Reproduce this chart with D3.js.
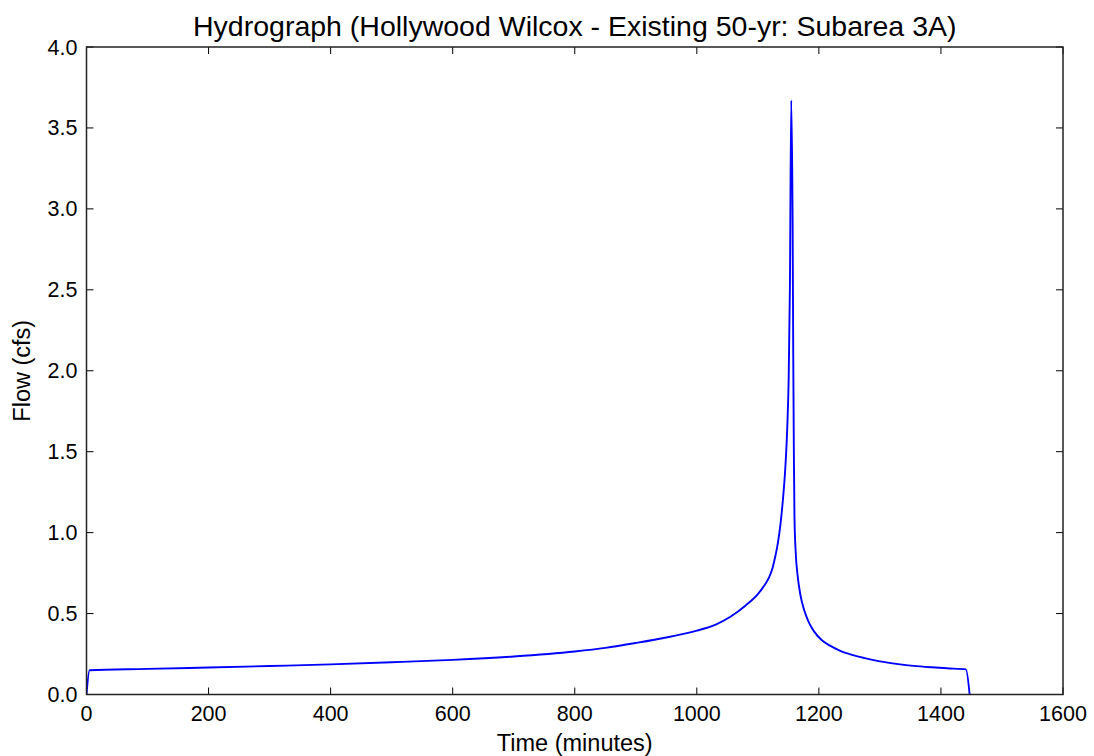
<!DOCTYPE html>
<html>
<meta charset="utf-8" />
<script src="https://cdn.jsdelivr.net/npm/d3@7/dist/d3.min.js"></script>
<style>
  html, body { margin: 0; padding: 0; background: #fff; }
  svg { display: block; font-family: 'Liberation Sans', Arial, sans-serif; }
  .tick-label { font-size: 21.5px; fill: #000; }
  .axis-title { font-size: 23.5px; fill: #000; }
  .title { font-size: 28.5px; fill: #000; }
</style>
<body>
<div id="chart"></div>
<script>
// hydrograph (minutes, cfs)
var times = [0, 5, 100, 200, 300, 400, 500, 600, 700, 800, 850, 900, 950, 1000, 1030, 1055,
  1080, 1100, 1110, 1118, 1124, 1129, 1133, 1137, 1141, 1145, 1148, 1150.5, 1152.5, 1154.7,
  1157, 1158, 1159, 1160, 1162, 1165, 1170, 1176, 1183, 1192, 1205, 1219, 1235, 1250, 1275,
  1300, 1330, 1355, 1385, 1410, 1441, 1447];
var flows = [0, 0.150, 0.158, 0.167, 0.176, 0.186, 0.199, 0.214, 0.235, 0.266, 0.288, 0.318,
  0.352, 0.395, 0.43, 0.48, 0.55, 0.62, 0.67, 0.72, 0.78, 0.86, 0.94, 1.05, 1.20, 1.40, 1.63,
  1.95, 2.5, 3.67, 2.9, 2.1, 1.5, 1.1, 0.88, 0.74, 0.61, 0.52, 0.45, 0.39, 0.335, 0.30, 0.27,
  0.25, 0.225, 0.205, 0.188, 0.177, 0.168, 0.162, 0.155, 0];
var xTicks = [0, 200, 400, 600, 800, 1000, 1200, 1400, 1600];
var yTicks = [0, 0.5, 1.0, 1.5, 2.0, 2.5, 3.0, 3.5, 4.0];

var W = 1094, H = 756;
var m = { left: 86.5, right: 1063, top: 47, bottom: 694.5 };

var svg = d3.select('#chart').append('svg').attr('width', W).attr('height', H);

var x = d3.scaleLinear().domain([0, 1600]).range([m.left, m.right]);
var y = d3.scaleLinear().domain([0, 4]).range([m.bottom, m.top]);

var data = times.map(function (t, i) { return { t: t, q: flows[i] }; });

var line = d3.line()
  .curve(d3.curveMonotoneX)
  .x(function (d) { return x(d.t); })
  .y(function (d) { return y(d.q); });

svg.append('defs').append('clipPath').attr('id', 'clip')
  .append('rect').attr('x', m.left).attr('y', m.top)
  .attr('width', m.right - m.left).attr('height', m.bottom - m.top);

svg.append('path')
  .datum(data)
  .attr('clip-path', 'url(#clip)')
  .attr('fill', 'none')
  .attr('stroke', '#0000ff')
  .attr('stroke-width', 1.9)
  .attr('stroke-linejoin', 'round')
  .attr('d', line);

// inward ticks on all four sides (matplotlib classic)
var tl = 7;
var g = svg.append('g').attr('stroke', '#000').attr('stroke-width', 1);
xTicks.forEach(function (v) {
  g.append('line').attr('x1', x(v)).attr('x2', x(v)).attr('y1', m.bottom).attr('y2', m.bottom - tl);
  g.append('line').attr('x1', x(v)).attr('x2', x(v)).attr('y1', m.top).attr('y2', m.top + tl);
});
yTicks.forEach(function (v) {
  g.append('line').attr('x1', m.left).attr('x2', m.left + tl).attr('y1', y(v)).attr('y2', y(v));
  g.append('line').attr('x1', m.right).attr('x2', m.right - tl).attr('y1', y(v)).attr('y2', y(v));
});

svg.append('rect')
  .attr('x', m.left).attr('y', m.top)
  .attr('width', m.right - m.left).attr('height', m.bottom - m.top)
  .attr('fill', 'none').attr('stroke', '#222').attr('stroke-width', 1.5);

svg.append('g').selectAll('text').data(xTicks).enter().append('text')
  .attr('class', 'tick-label')
  .attr('x', function (d) { return x(d); })
  .attr('y', m.bottom + 26)
  .attr('text-anchor', 'middle')
  .text(function (d) { return d; });

svg.append('g').selectAll('text').data(yTicks).enter().append('text')
  .attr('class', 'tick-label')
  .attr('x', m.left - 9)
  .attr('y', function (d) { return y(d) + 7.5; })
  .attr('text-anchor', 'end')
  .text(function (d) { return d3.format('.1f')(d); });

svg.append('text')
  .attr('class', 'title')
  .attr('x', (m.left + m.right) / 2)
  .attr('y', 36)
  .attr('text-anchor', 'middle')
  .text('Hydrograph (Hollywood Wilcox - Existing 50-yr: Subarea 3A)');

svg.append('text')
  .attr('class', 'axis-title')
  .attr('x', (m.left + m.right) / 2)
  .attr('y', 751)
  .attr('text-anchor', 'middle')
  .text('Time (minutes)');

svg.append('text')
  .attr('class', 'axis-title')
  .attr('transform', 'translate(30,' + (m.top + m.bottom) / 2 + ') rotate(-90)')
  .attr('text-anchor', 'middle')
  .text('Flow (cfs)');
</script>
</body>
</html>
